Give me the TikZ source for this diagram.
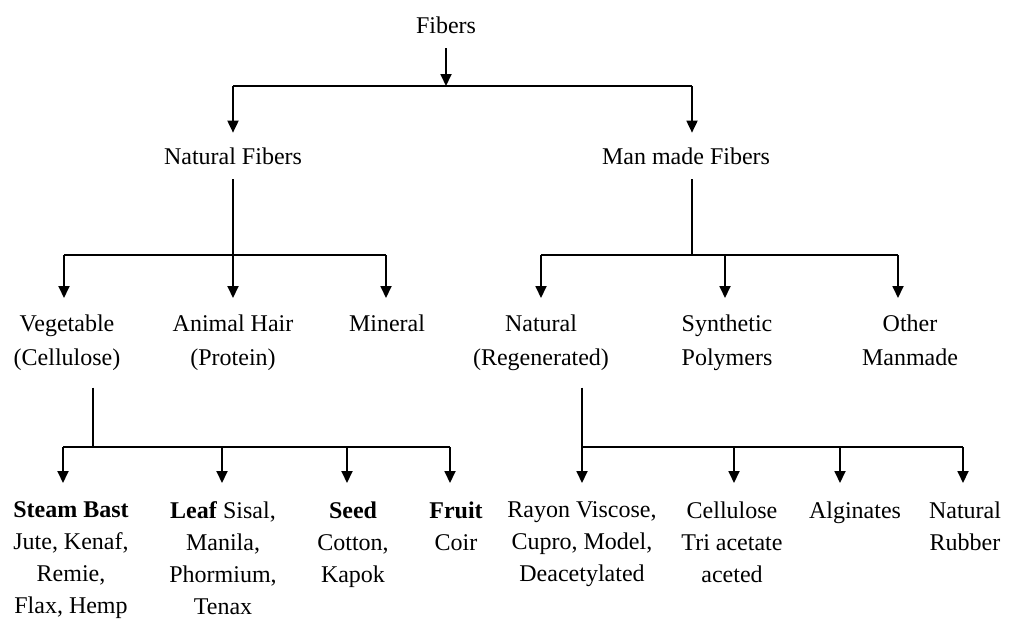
\documentclass[tikz,border=0pt]{standalone}
\usepackage{fontspec}
\setmainfont{Liberation Serif}
\usetikzlibrary{arrows.meta,calc}

\begin{document}
\begin{tikzpicture}[x=0.5pt,y=-0.5pt,line width=0.9pt,
  arr/.style={-{Triangle[width=5.5pt,length=6pt]}},
  head/.style={font=\fontsize{12}{15}\selectfont,inner ysep=7pt,inner xsep=1pt},
  mid/.style={font=\fontsize{12}{17}\selectfont,align=center,anchor=north,inner ysep=8pt,inner xsep=1pt},
  low/.style={font=\fontsize{12}{16}\selectfont,align=center,anchor=north,inner ysep=9pt,inner xsep=1pt}]
\useasboundingbox (0,0) rectangle (1023,618);

% Fibers and the two main groups
\node[head] (fib) at (446,25) {Fibers};
\node[head] (nat) at (233,156) {Natural Fibers};
\node[head] (man) at (686,156) {Man made Fibers};
\coordinate (t0) at (446,86);
\coordinate (tl) at (233,86);
\coordinate (tr) at (692,86);
\draw[arr] (fib) -- (t0);
\draw (tl) -- (tr);
\draw[arr] (tl) -- (nat);
\draw[arr] (tr) -- (tr |- man.north);

% Second level
\node[mid] (veg) at (67,298) {Vegetable\\(Cellulose)};
\node[mid] (ani) at (233,298) {Animal Hair\\(Protein)};
\node[mid] (min) at (387,298) {Mineral};
\node[mid] (reg) at (541,298) {Natural\\(Regenerated)};
\node[mid] (syn) at (727,298) {Synthetic\\Polymers};
\node[mid] (oth) at (910,298) {Other\\Manmade};

\coordinate (nl) at (64,255);
\coordinate (nr) at (386,255);
\draw[arr] (nat) -- (ani);
\draw (nl) -- (nr);
\draw[arr] (nl) -- (nl |- veg.north);
\draw[arr] (nr) -- (nr |- min.north);

\coordinate (m0) at (692,255);
\coordinate (ml) at (541,255);
\coordinate (mm) at (725,255);
\coordinate (mr) at (898,255);
\draw (m0 |- man.south) -- (m0);
\draw (ml) -- (mr);
\foreach \c/\n in {ml/reg,mm/syn,mr/oth} {
  \draw[arr] (\c) -- (\c |- \n.north);
}

% Vegetable kinds
\node[low] (bast) at (71,483) {\textbf{Steam Bast}\\Jute, Kenaf,\\Remie,\\Flax, Hemp};
\node[low] (leaf) at (223,483) {\textbf{Leaf} Sisal,\\Manila,\\Phormium,\\Tenax};
\node[low] (seed) at (353,483) {\textbf{Seed}\\Cotton,\\Kapok};
\node[low] (fruit) at (456,483) {\textbf{Fruit}\\Coir};

\coordinate (v0) at (93,447);
\coordinate (v1) at (63,447);
\coordinate (v2) at (222,447);
\coordinate (v3) at (347,447);
\coordinate (v4) at (450,447);
\draw (v0 |- veg.south) -- (v0);
\draw (v1) -- (v4);
\foreach \c/\n in {v1/bast,v2/leaf,v3/seed,v4/fruit} {
  \draw[arr] (\c) -- (\c |- \n.north);
}

% Regenerated kinds
\node[low] (ray) at (582,483) {Rayon Viscose,\\Cupro, Model,\\Deacetylated};
\node[low] (cel) at (732,483) {Cellulose\\Tri acetate\\aceted};
\node[low] (alg) at (855,483) {Alginates};
\node[low] (rub) at (965,483) {Natural\\Rubber};

\coordinate (r1) at (582,447);
\coordinate (r2) at (734,447);
\coordinate (r3) at (840,447);
\coordinate (r4) at (963,447);
\draw (r1 |- reg.south) -- (r1);
\draw (r1) -- (r4);
\foreach \c/\n in {r1/ray,r2/cel,r3/alg,r4/rub} {
  \draw[arr] (\c) -- (\c |- \n.north);
}
\end{tikzpicture}
\end{document}
